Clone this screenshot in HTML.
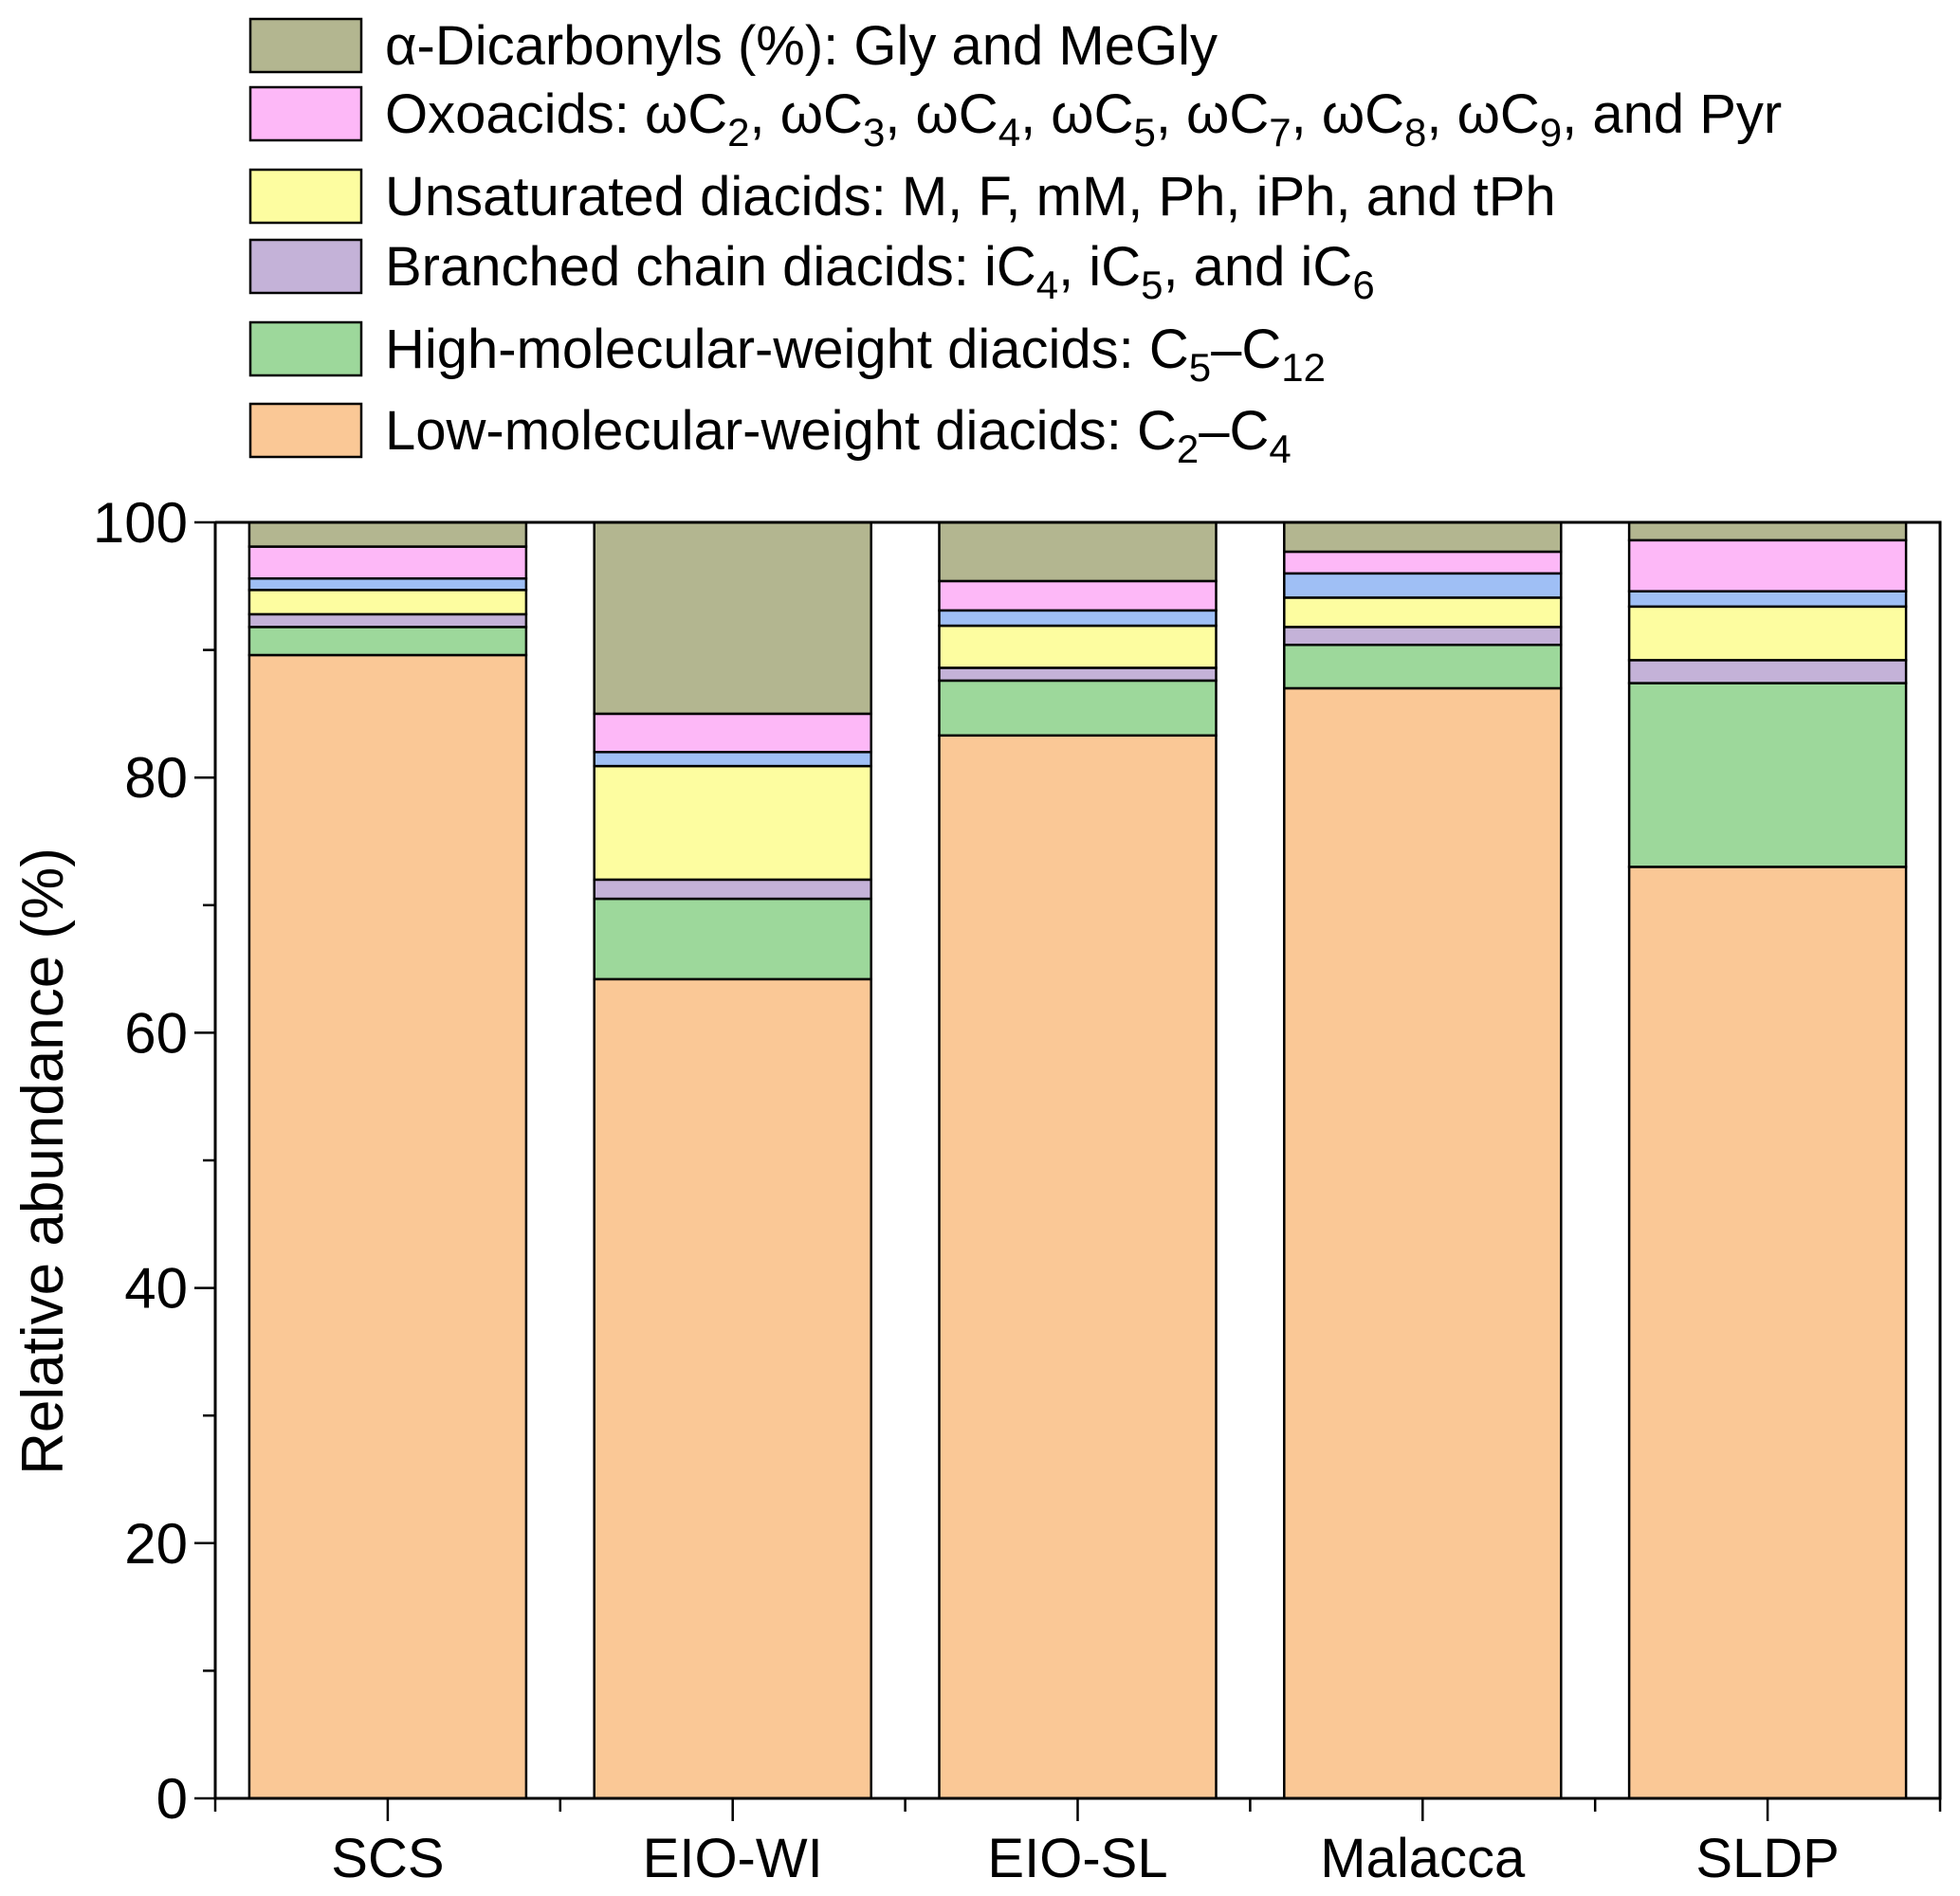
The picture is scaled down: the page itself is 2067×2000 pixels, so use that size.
<!DOCTYPE html>
<html><head><meta charset="utf-8"><style>
body{margin:0;background:#fff}
svg{display:block;font-family:"Liberation Sans",sans-serif}
</style></head><body>
<svg id="chart" width="2067" height="2000" viewBox="0 0 2067 2000">
<g id="legend"></g>
<g id="bars"></g>
<g id="axes"></g>
<text transform="translate(66,1225) rotate(-90)" text-anchor="middle" font-size="62">Relative abundance (%)</text>
</svg>
<script>
const categories=["SCS","EIO-WI","EIO-SL","Malacca","SLDP"];
const lowMW=[89.6,64.2,83.3,87.0,73.0];
const highMW=[2.2,6.3,4.3,3.4,14.4];
const branched=[1.0,1.5,1.0,1.4,1.8];
const unsaturated=[1.9,8.9,3.3,2.3,4.2];
const otherBlue=[0.9,1.1,1.2,1.9,1.2];
const oxoacids=[2.5,3.0,2.3,1.7,4.0];
const dicarbonyls=[1.9,15.0,4.6,2.3,1.4];
const yTicks=[0,20,40,60,80,100];
const seriesList=[
 {name:"low-mw-diacids",vals:lowMW,color:"#fac896"},
 {name:"high-mw-diacids",vals:highMW,color:"#9dd89b"},
 {name:"branched-diacids",vals:branched,color:"#c4b2d8"},
 {name:"unsaturated-diacids",vals:unsaturated,color:"#fdfda0"},
 {name:"other-series",vals:otherBlue,color:"#9fbff5"},
 {name:"oxoacids",vals:oxoacids,color:"#fdb8f7"},
 {name:"dicarbonyls",vals:dicarbonyls,color:"#b3b690"}
];
const NS="http://www.w3.org/2000/svg";
const X0=227,X1=2046,Y0=1897,Y1=551;
const band=(X1-X0)/categories.length, barW=292;
const y=v=>Y0-(v/100)*(Y0-Y1);
const xc=i=>X0+band*(i+0.5);
function mk(tag,attrs,parent){const e=document.createElementNS(NS,tag);for(const k in attrs)e.setAttribute(k,attrs[k]);parent.appendChild(e);return e;}
const bars=document.getElementById('bars'),axes=document.getElementById('axes'),legend=document.getElementById('legend');
categories.forEach((c,i)=>{
 let acc=0;
 seriesList.forEach(s=>{
  const v=s.vals[i];
  const r=mk('rect',{x:xc(i)-barW/2,y:y(acc+v),width:barW,height:y(acc)-y(acc+v),fill:s.color,stroke:"#000","stroke-width":2.5},bars);
  
  
  acc+=v;
 });
 const t=mk('text',{x:xc(i),y:1980,"text-anchor":"middle","font-size":58},axes);
 t.textContent=c;
 
 
 mk('line',{x1:xc(i),y1:Y0,x2:xc(i),y2:Y0+24,stroke:"#000","stroke-width":2.5},axes);
});
for(let i=0;i<=categories.length;i++){mk('line',{x1:X0+band*i,y1:Y0,x2:X0+band*i,y2:Y0+14,stroke:"#000","stroke-width":2.5},axes);}
const frame=mk('path',{d:`M${X0},${Y1}V${Y0}H${X1}V${Y1}H${X0}`,fill:"none",stroke:"#000","stroke-width":3},axes);


for(let v=0;v<=100;v+=10){mk('line',{x1:X0,y1:y(v),x2:X0-(v%20===0?22:13),y2:y(v),stroke:"#000","stroke-width":2.5},axes);}
yTicks.forEach(v=>{
 const t=mk('text',{x:198,y:y(v)+21,"text-anchor":"end","font-size":60},axes);
 t.textContent=v;
 
 
});
const S=(n)=>`<tspan dy="14" font-size="42">${n}</tspan>`;
const R=(s)=>`<tspan dy="-14">${s}</tspan>`;
const legendItems=[
 {y:20,color:"#b3b690",html:'α-Dicarbonyls (%): Gly and MeGly'},
 {y:92,color:"#fdb8f7",html:'Oxoacids: ωC'+S(2)+R(', ωC')+S(3)+R(', ωC')+S(4)+R(', ωC')+S(5)+R(', ωC')+S(7)+R(', ωC')+S(8)+R(', ωC')+S(9)+R(', and Pyr')},
 {y:179,color:"#fdfda0",html:'Unsaturated diacids: M, F, mM, Ph, iPh, and tPh'},
 {y:253,color:"#c4b2d8",html:'Branched chain diacids: iC'+S(4)+R(', iC')+S(5)+R(',  and iC')+S(6)},
 {y:340,color:"#9dd89b",html:'High-molecular-weight diacids: C'+S(5)+R('–C')+S(12)},
 {y:426,color:"#fac896",html:'Low-molecular-weight diacids: C'+S(2)+R('–C')+S(4)}
];
legendItems.forEach((it,k)=>{
 const g=mk('g',{},legend);
 
 
 mk('rect',{x:264,y:it.y,width:117,height:56,fill:it.color,stroke:"#000","stroke-width":2.5},g);
 const t=mk('text',{x:406,y:it.y+48,"font-size":58},g);
 t.innerHTML=it.html;
});
</script>
</body></html>
